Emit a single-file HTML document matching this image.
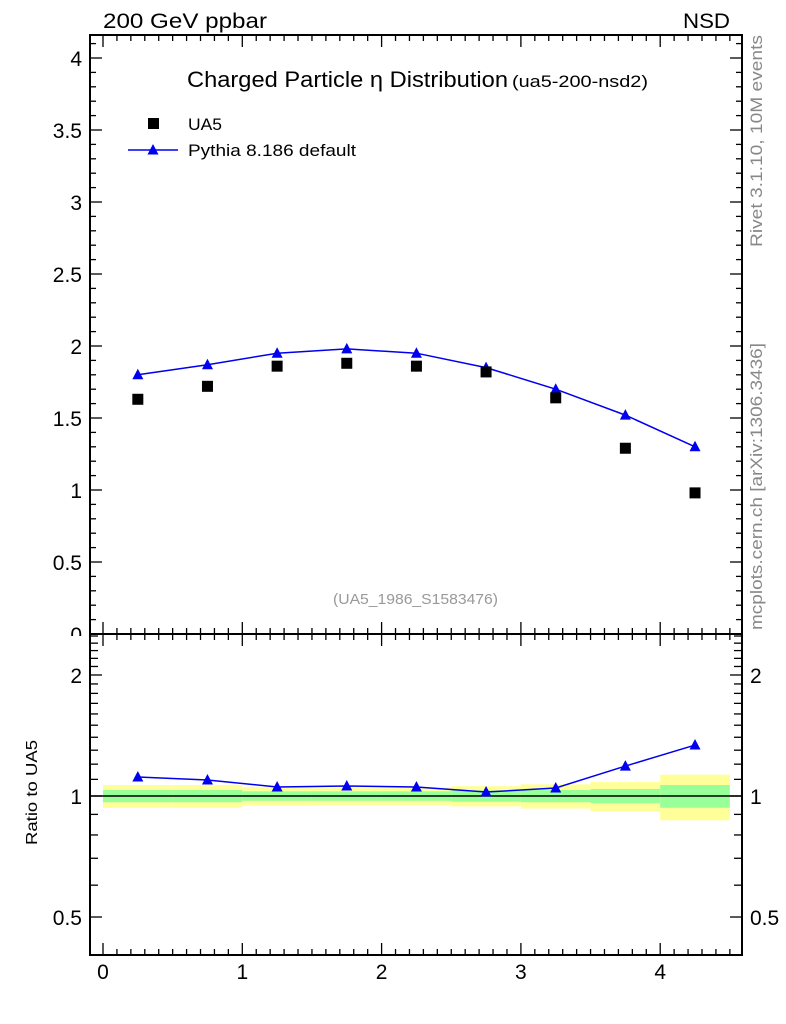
<!DOCTYPE html>
<html><head><meta charset="utf-8"><style>
body{margin:0;background:#fff;width:786px;height:1024px;overflow:hidden;font-family:"Liberation Sans",sans-serif}
svg text{font-family:"Liberation Sans","DejaVu Sans",sans-serif}
</style></head><body>
<svg id="c" width="786" height="1024" xmlns="http://www.w3.org/2000/svg" style="position:absolute;left:0;top:0">
<defs><clipPath id="mainclip"><rect x="0" y="0" width="786" height="636"/></clipPath></defs>
</svg>
<script>
const xCenters=[0.25,0.75,1.25,1.75,2.25,2.75,3.25,3.75,4.25];
const ua5Vals=[1.63,1.72,1.86,1.88,1.86,1.82,1.64,1.29,0.98];
const pythiaVals=[1.80,1.87,1.95,1.98,1.95,1.85,1.70,1.52,1.30];
const ratioVals=[1.115,1.096,1.053,1.059,1.053,1.023,1.047,1.187,1.339];
const yellowErr=[0.065,0.065,0.053,0.05,0.05,0.058,0.069,0.083,0.13];
const greenErr=[0.035,0.035,0.027,0.027,0.027,0.032,0.035,0.041,0.065];
const mainYTicks=[0,0.5,1,1.5,2,2.5,3,3.5,4];
const mainYLabels=["0","0.5","1","1.5","2","2.5","3","3.5","4"];
const ratioYTicks=[0.5,1,2];
const ratioYLabels=["0.5","1","2"];
const xTicks=[0,1,2,3,4];
const xLabels=["0","1","2","3","4"];

const L=90,R=742,T=35,MB=634,RB=955;
const X=v=>103+v*139.3;
const Y=v=>634-v*144;
const RY=v=>796-Math.log10(v)*402;
const svg=document.getElementById('c');
const NS='http://www.w3.org/2000/svg';
function mk(tag,attrs,parent){const e=document.createElementNS(NS,tag);for(const k in attrs)e.setAttribute(k,attrs[k]);(parent||svg).appendChild(e);return e;}
function txt(s,attrs){const e=mk('text',attrs);e.textContent=s;return e;}

const bands=mk('g',{});


xCenters.forEach((c,i)=>{
  const x0=X(c-0.25),x1=X(c+0.25);
  const y=mk('rect',{x:x0,y:RY(1+yellowErr[i]),width:x1-x0,height:RY(1-yellowErr[i])-RY(1+yellowErr[i]),fill:'#ffff99'},bands);
  
  
  const g=mk('rect',{x:x0,y:RY(1+greenErr[i]),width:x1-x0,height:RY(1-greenErr[i])-RY(1+greenErr[i]),fill:'#99ff99'},bands);
  
  
});
const one=mk('line',{x1:L,x2:R,y1:RY(1),y2:RY(1),stroke:'#000','stroke-width':1.5});



const f1=mk('rect',{x:L,y:T,width:R-L,height:MB-T,fill:'none',stroke:'#000','stroke-width':2});


const f2=mk('rect',{x:L,y:MB,width:R-L,height:RB-MB,fill:'none',stroke:'#000','stroke-width':2});



function tk(x1,y1,x2,y2){mk('line',{x1,y1,x2,y2,stroke:'#000','stroke-width':1.3});}
for(let k=0;k<=41;k++){const v=k/10;const y=Y(v);if(y<T)break;const maj=k%5==0;const l=maj?12:6;tk(L,y,L+l,y);tk(R,y,R-l,y);}
mainYTicks.forEach((v,i)=>{const t=txt(mainYLabels[i],{x:82,y:Y(v)+8,'text-anchor':'end','font-size':21,'clip-path':'url(#mainclip)'});
});
for(let k=0;k<=46;k++){const v=k/10;const x=X(v);if(x>R)break;const maj=k%10==0;const l=maj?12:6;
 tk(x,MB,x,MB-l);tk(x,MB,x,MB+l);tk(x,RB,x,RB-l);tk(x,T,x,T+l);}
xTicks.forEach((v,i)=>{const t=txt(xLabels[i],{x:X(v),y:979,'text-anchor':'middle','font-size':21});
});
const rt=[0.5,0.6,0.7,0.8,0.9,1,1.1,1.2,1.3,1.4,1.5,1.6,1.7,1.8,1.9,2,2.1,2.2,2.3,2.4,2.5];
rt.forEach(v=>{const y=RY(v);if(y<MB)return;const maj=[0.5,1,2].includes(v);const l=maj?12:8;tk(L,y,L+l,y);tk(R,y,R-l,y);});
ratioYTicks.forEach((v,i)=>{
 const a=txt(ratioYLabels[i],{x:82,y:RY(v)+8,'text-anchor':'end','font-size':21});
 
 const b=txt(ratioYLabels[i],{x:750,y:RY(v)+8,'text-anchor':'start','font-size':21});
 });

function tri(x,y,p){return mk('polygon',{points:`${x},${y-6} ${x-5.5},${y+4.5} ${x+5.5},${y+4.5}`,fill:'#0000ee'},p);}
const pl=mk('polyline',{points:xCenters.map((c,i)=>X(c)+','+Y(pythiaVals[i])).join(' '),fill:'none',stroke:'#0000ee','stroke-width':1.5});

xCenters.forEach((c,i)=>{const p=tri(X(c),Y(pythiaVals[i]));});
xCenters.forEach((c,i)=>{const s=mk('rect',{x:X(c)-5.5,y:Y(ua5Vals[i])-5.5,width:11,height:11,fill:'#000'});
 });
const rl=mk('polyline',{points:xCenters.map((c,i)=>X(c)+','+RY(ratioVals[i])).join(' '),fill:'none',stroke:'#0000ee','stroke-width':1.5});

xCenters.forEach((c,i)=>{const p=tri(X(c),RY(ratioVals[i]));});

const lg=mk('g',{});
mk('rect',{x:148,y:118,width:11,height:11,fill:'#000'},lg);
mk('line',{x1:128,x2:178,y1:150,y2:150,stroke:'#0000ee','stroke-width':1.5},lg);
tri(153,150,lg);
</script>
<svg width="786" height="1024" xmlns="http://www.w3.org/2000/svg" style="position:absolute;left:0;top:0;pointer-events:none">
<text x="103" y="28" font-size="21" textLength="164" lengthAdjust="spacingAndGlyphs">200 GeV ppbar</text>
<text x="683" y="28" font-size="21" textLength="47" lengthAdjust="spacingAndGlyphs">NSD</text>
<text x="187" y="87" font-size="22" textLength="321" lengthAdjust="spacingAndGlyphs">Charged Particle η Distribution</text>
<text x="512" y="87" font-size="17" textLength="136" lengthAdjust="spacingAndGlyphs">(ua5-200-nsd2)</text>
<text x="188" y="130" font-size="17" textLength="34" lengthAdjust="spacingAndGlyphs">UA5</text>
<text x="188" y="156" font-size="17" textLength="168" lengthAdjust="spacingAndGlyphs">Pythia 8.186 default</text>
<text x="333" y="604" font-size="15" fill="#999" textLength="165" lengthAdjust="spacingAndGlyphs">(UA5_1986_S1583476)</text>
<text transform="translate(37,845) rotate(-90)" font-size="16" textLength="105" lengthAdjust="spacingAndGlyphs">Ratio to UA5</text>
<text transform="translate(762,247) rotate(-90)" font-size="17" fill="#888" textLength="212" lengthAdjust="spacingAndGlyphs">Rivet 3.1.10,  10M events</text>
<text transform="translate(762,630) rotate(-90)" font-size="17" fill="#888" textLength="287" lengthAdjust="spacingAndGlyphs">mcplots.cern.ch [arXiv:1306.3436]</text>
</svg>
</body></html>
